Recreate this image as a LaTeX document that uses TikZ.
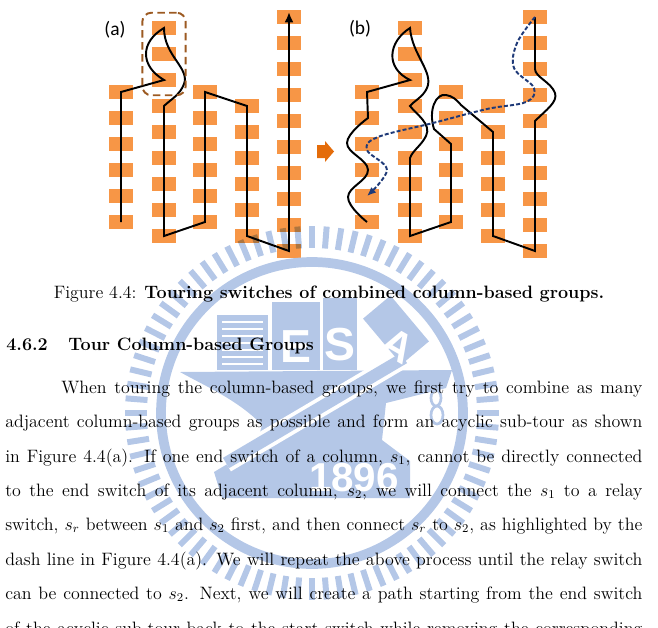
\documentclass[tikz,border=0pt]{standalone}
\usepackage{fontspec}
\newfontfamily\labelfont{Carlito}
\newfontfamily\wmfont{Liberation Sans}
\usetikzlibrary{arrows.meta,positioning,calc,fit}
\definecolor{SW}{HTML}{F79646}
\definecolor{AR}{HTML}{E46C0A}
\definecolor{RB}{HTML}{9C5A22}
\definecolor{DB}{HTML}{1F3A78}
\definecolor{WM}{HTML}{B4C7E7}

\tikzset{
  sw/.style={fill=SW, minimum width=16pt, minimum height=10pt, inner sep=0pt},
  tour/.style={line width=1.3pt, line join=miter},
  relay/.style={DB, line width=1.3pt, dash pattern=on 2.7pt off 1.4pt},
  relaybox/.style={draw=RB, line width=1.3pt, dash pattern=on 5pt off 3pt,
    rounded corners=6pt, inner xsep=6.3pt, inner ysep=5pt},
  lbl/.style={font=\labelfont\fontsize{13}{13}\selectfont},
  txt/.style={anchor=base west, inner sep=0pt, font=\fontsize{12}{14.5}\selectfont},
  wmtext/.style={text=white, inner sep=0pt, font=\wmfont\bfseries\fontsize{#1}{#1}\selectfont},
}

\begin{document}
\begin{tikzpicture}[x=0.669pt, y=-0.669pt]
  \useasboundingbox (0,0) rectangle (658,627);
  \clip (0,0) rectangle (658,627);

  %% switch columns of both panels
  \foreach \p/\dx in {a/0, b/246}{
    \foreach \c/\cx/\cy/\n in {1/121/92/6, 2/164/28/9, 3/205/92/6, 4/247/106/6, 5/289/17/10}{
      \foreach \r in {1,...,\n}{
        \node[sw] (\p\c-\r) at ({\cx+\dx}, {\cy+26*(\r-1)}) {};
      }
    }
  }

  \node[lbl] (la) at (115,30) {(a)};
  \node[lbl] (lb) at (360,29) {(b)};

  %% (a) acyclic sub-tour
  \draw[tour, -{Latex[length=7pt, width=6pt]}] (a1-6.center) -- (a1-1.center) -- (a2-3.center)
    .. controls (140,66) and (140,42) .. (a2-1.center)
    .. controls (164,56) and (190,68) .. (184,84)
    .. controls (180,95) and (170,100) .. (a2-4.center)
    -- (a2-9.center) -- (a3-6.center) -- (a3-1.center) -- (a4-1.center)
    -- (a4-6.center) -- (a5-10.center) -- ($(a5-1.center)+(0,-5)$);
  %% relay switch box
  \node[relaybox, fit=(a2-1)(a2-3)] (relay) {};

  %% orange arrow between the panels
  \fill[AR] (317,145) -- (325,145) -- (325,141) -- (334,151.5) -- (325,162)
    -- (325,158) -- (317,158) -- cycle;

  %% (b) tour back to the start switch
  \draw[tour] plot[smooth, tension=0.7] coordinates {(b1-6.center) (348,197) (368,170) (347,143) (368,118)}
    -- (b1-1.center) -- (b2-3.center)
    .. controls (385,68) and (388,42) .. (b2-1.center)
    .. controls (412,55) and (434,72) .. (427,88)
    .. controls (423,97) and (414,101) .. (b2-4.center)
    .. controls (416,114) and (432,124) .. (426,136)
    .. controls (421,146) and (413,150) .. (b2-6.center)
    -- (b2-9.center) -- (b3-6.center) -- (b3-3.center) -- (434,129)
    .. controls (428,110) and (436,93) .. (446,95)
    .. controls (452,96) and (456,99) .. (461,105)
    -- (b4-2.center) -- (b4-6.center) -- (b5-10.center) -- (b5-5.center)
    .. controls (546,110) and (558,102) .. (555,93)
    .. controls (551,82) and (535,77) .. (b5-3.center) -- (b5-1.center);
  \draw[relay, -{Latex[length=6pt, width=5pt]}] plot[smooth, tension=0.6] coordinates
    {(b5-1.center) (517,43) (514,68) (534,88) (526,102) (487,109) (433,123)
     (378,137) (367,150) (387,170) (b1-5.center)};

  %% watermark
  \coordinate (wc) at (312,413);
  \foreach \a in {0,4.5,...,355.5}
    \draw[WM, line width=4pt, blend mode=multiply] ($(wc)+(\a:165)$) -- ($(wc)+(\a:187)$);
  \draw[WM, line width=6.5pt] (wc) circle[radius=151];
  % anvil
  \fill[WM] (180,372) -- (452,370) -- (446,388) -- (386,403) -- (382,440)
    -- (410,461) -- (410,498) -- (222,498) -- (214,472) -- (256,447) -- (262,425)
    .. controls (238,400) and (205,386) .. cycle;
  \node[wmtext=27] (wm1896) at (354,478) {1896};
  % books
  \fill[WM] (217,315) rectangle (268,370);
  \foreach \yy in {322,329,...,364}
    \draw[white, line width=1.6pt] (222,\yy) -- (263,\yy);
  \fill[WM] (272,302) rectangle (320,370);
  \node[wmtext=31] (wmE) at (296,347) {E};
  \fill[WM] (323,298) rectangle (357,370);
  \node[wmtext=31] (wmS) at (340,345) {S};
  % hammer
  \draw[white, line width=13pt] (404,358) -- (226,463);
  \draw[WM, line width=8pt] (404,358) -- (226,463);
  \node[fill=WM, minimum width=24pt, minimum height=40pt, inner sep=0pt, rotate=40]
    (wmhead) at (396,330) {};
  \node[wmtext=28, rotate=-30] (wmA) at (398,346) {A};
  \draw[WM, line width=1.8pt] (436,398) ellipse[x radius=5, y radius=8];
  \draw[WM, line width=1.8pt] (437,415) ellipse[x radius=6, y radius=9];

  %% caption and text
  \node[txt, anchor=base] (cap) at (329,298)
    {Figure 4.4: \textbf{Touring switches of combined column-based groups.}};
  \node[txt] (secnum) at (6,350) {\bfseries 4.6.2};
  \node[txt] (sectitle) at (68,350) {\bfseries Tour Column-based Groups};

  \node[txt] (l1) at (61,393) {\makebox[388.7pt][s]{When touring the column-based groups, we first try to combine as many}};
  \node[txt] (l2) at (5,427) {\makebox[426.2pt][s]{adjacent column-based groups as possible and form an acyclic sub-tour as shown}};
  \node[txt] (l3) at (5,462) {\makebox[426.2pt][s]{in Figure 4.4(a). If one end switch of a column, $s_1$, cannot be directly connected}};
  \node[txt] (l4) at (5,496) {\makebox[426.2pt][s]{to the end switch of its adjacent column, $s_2$, we will connect the $s_1$ to a relay}};
  \node[txt] (l5) at (5,530) {\makebox[426.2pt][s]{switch, $s_r$ between $s_1$ and $s_2$ first, and then connect $s_r$ to $s_2$, as highlighted by the}};
  \node[txt] (l6) at (5,565) {\makebox[426.2pt][s]{dash line in Figure 4.4(a). We will repeat the above process until the relay switch}};
  \node[txt] (l7) at (5,599) {\makebox[426.2pt][s]{can be connected to $s_2$. Next, we will create a path starting from the end switch}};
  \node[txt] (l8) at (5,634) {\makebox[426.2pt][s]{of the acyclic sub-tour back to the start switch while removing the corresponding}};
\end{tikzpicture}
\end{document}
